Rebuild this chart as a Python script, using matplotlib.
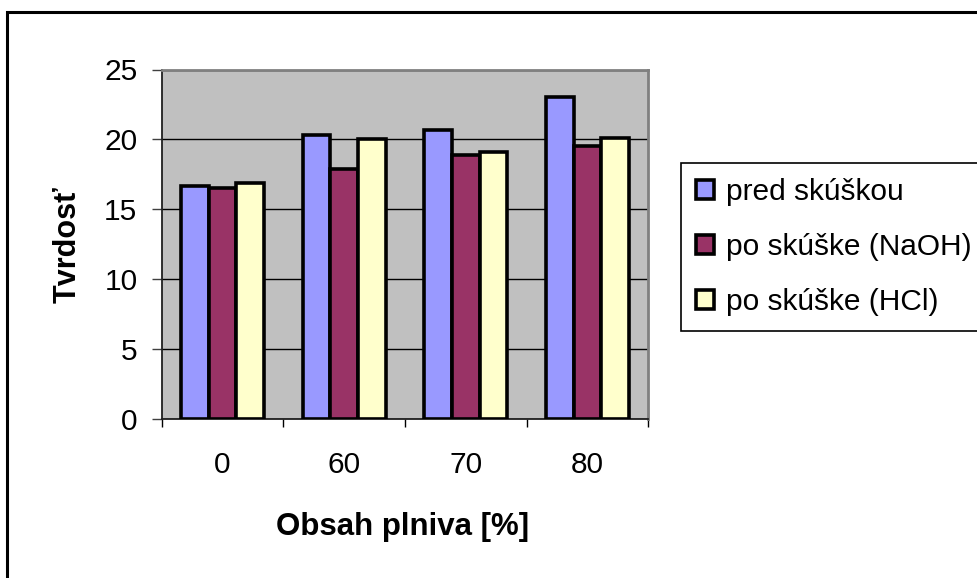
import matplotlib
matplotlib.use("Agg")
import matplotlib.pyplot as plt
from matplotlib.patches import Rectangle
import numpy as np

# Filler content categories and measured hardness per series
categories = ["0", "60", "70", "80"]
series_names = ["pred skúškou", "po skúške (NaOH)", "po skúške (HCl)"]
pred = [16.7, 20.3, 20.7, 23.0]
naoh = [16.5, 17.9, 18.9, 19.5]
hcl = [16.9, 20.0, 19.1, 20.1]
y_ticks = [0, 5, 10, 15, 20, 25]

colors = ["#9999FF", "#993366", "#FFFFCC"]

plt.rcParams["font.family"] = ["Liberation Sans", "DejaVu Sans"]
plt.rcParams["font.size"] = 21.5

W, H = 978, 578
fig = plt.figure(figsize=(W / 100, H / 100), dpi=100)
fig.patch.set_facecolor("white")

# plot area in pixel terms
left, right, top, bottom = 161.7, 648.3, 69.5, 419.3
ax = fig.add_axes([left / W, 1 - bottom / H, (right - left) / W, (bottom - top) / H])
ax.set_facecolor("#C0C0C0")

x = np.arange(len(categories))
w = 0.228
for i, (vals, name, c) in enumerate(zip([pred, naoh, hcl], series_names, colors)):
    ax.bar(x + (i - 1) * w, vals, width=w, color=c, edgecolor="black",
           linewidth=2.6, label=name, zorder=3)

ax.set_xlim(-0.5, len(categories) - 0.5)
ax.set_ylim(0, 25)
ax.set_yticks(y_ticks)
ax.yaxis.grid(True, color="#000000", linewidth=1.0, zorder=1)
ax.set_axisbelow(True)

ax.set_xticks(x)
ax.set_xticklabels(categories)
ax.set_xticks(np.arange(-0.5, len(categories)), minor=True)
ax.tick_params(axis="x", which="major", length=0, pad=23)
ax.tick_params(axis="x", which="minor", length=6, width=1, color="black", direction="out")
ax.tick_params(axis="y", length=7, width=1, color="#404040", direction="out", pad=10.5)

for s in ["left", "bottom"]:
    ax.spines[s].set_color("#202020")
    ax.spines[s].set_linewidth(1.3)
for s in ["top", "right"]:
    ax.spines[s].set_color("#808080")
    ax.spines[s].set_linewidth(2.0)

ax.set_ylabel("Tvrdosť", fontweight="bold", fontsize=22)
ax.yaxis.set_label_coords((68 - left) / (right - left), 0.5)
ax.yaxis.label.set_va("center")
ax.set_xlabel("Obsah plniva [%]", fontweight="bold", fontsize=22.5)
ax.xaxis.set_label_coords(0.496, (bottom - 527) / (bottom - top))
ax.xaxis.label.set_va("center")

leg = fig.legend(loc="upper left",
                 bbox_to_anchor=(680.7 / W, 1 - 325 / H, 0.36, (325 - 163.3) / H),
                 mode="expand", frameon=True, fancybox=False, shadow=False,
                 handlelength=0.62, handleheight=0.62, handletextpad=0.4,
                 borderpad=0.5, labelspacing=0.9, borderaxespad=0)
leg.get_frame().set_edgecolor("black")
leg.get_frame().set_linewidth(1.2)
leg.get_frame().set_alpha(1)

# outer chart border
fig.patches.append(Rectangle((7 / W, -0.1), 1.2, 1.1 - 12 / H,
                             transform=fig.transFigure, fill=False,
                             edgecolor="black", linewidth=2.2))

fig.savefig("out.png", dpi=100)
